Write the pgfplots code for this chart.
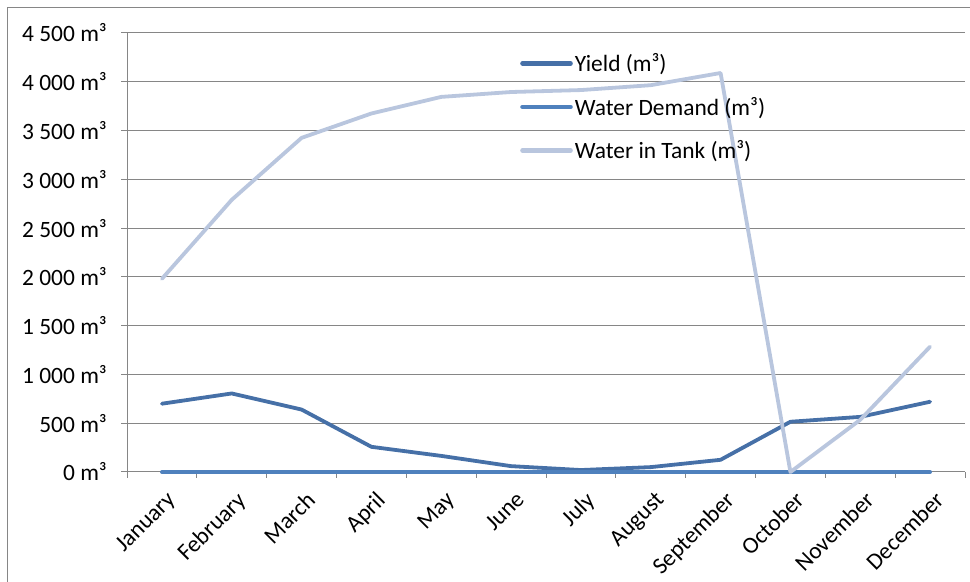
\documentclass[border=0pt]{standalone}
\usepackage{fontspec}
\setmainfont{Carlito}
\usepackage{pgfplots}
\pgfplotsset{compat=1.18}
\definecolor{yieldc}{RGB}{70,112,167}
\definecolor{demandc}{RGB}{79,129,189}
\definecolor{tankc}{RGB}{185,198,222}
\definecolor{gridc}{RGB}{134,134,134}
\begin{document}
\begin{tikzpicture}[x=1bp,y=1bp]
\useasboundingbox (0,0) rectangle (970,582);
\begin{scope}
\clip (0,0) rectangle (970,582);
\draw[gridc, line width=1bp] (7,-10) -- (7,574) -- (990,574);
\end{scope}
\begin{axis}[
  at={(127bp,110bp)}, anchor=south west,
  scale only axis, width=838bp, height=439bp,
  xmin=0.5, xmax=12.5, ymin=0, ymax=4500,
  xtick={1,...,12},
  xticklabels={January,February,March,April,May,June,July,August,September,October,November,December},
  major x tick style={draw=none},
  minor xtick={0.5,1.5,...,12.5},
  minor tick length=6bp,
  minor x tick style={gridc, line width=1bp},
  ytick={0,500,...,4500},
  yticklabels={0 m³,500 m³,1 000 m³,1 500 m³,2 000 m³,2 500 m³,3 000 m³,3 500 m³,4 000 m³,4 500 m³},
  major tick length=6bp,
  tick align=outside,
  ytick style={gridc, line width=1bp},
  ymajorgrids, grid style={gridc, line width=1bp},
  axis x line*=bottom, axis y line*=left,
  axis line style={gridc, line width=1bp},
  tick label style={font=\fontsize{23.5}{28}\selectfont, text=black},
  x tick label style={rotate=45, anchor=north east, inner sep=2bp, xshift=-4bp, yshift=-9bp},
  yticklabel style={inner sep=3bp, xshift=-11bp},
  legend style={draw=none, fill=none, at={(0.469,0.958)}, anchor=north west,
    font=\fontsize{23.5}{28}\selectfont, row sep=20bp, inner sep=0pt,
    /tikz/every even column/.append style={column sep=0bp}},
  legend cell align=left,
  legend image code/.code={\draw[#1, line cap=round] (0bp,0bp) -- (48bp,0bp);},
  legend image post style={line width=4.6bp},
  clip=false,
]
\addplot[yieldc, line width=3.8bp, line join=round, line cap=round] coordinates {
(1,700) (2,805) (3,640) (4,258) (5,165) (6,60) (7,20) (8,50) (9,125) (10,515) (11,565) (12,720)};
\addlegendentry{Yield (m³)}
\addplot[demandc, line width=3.8bp, line cap=round] coordinates {
(1,0) (2,0) (3,0) (4,0) (5,0) (6,0) (7,0) (8,0) (9,0) (10,0) (11,0) (12,0)};
\addlegendentry{Water Demand (m³)}
\addplot[tankc, line width=3.8bp, line join=round, line cap=round] coordinates {
(1,1980) (2,2790) (3,3425) (4,3675) (5,3845) (6,3895) (7,3915) (8,3965) (9,4090) (10,0) (11,535) (12,1285)};
\addlegendentry{Water in Tank (m³)}
\end{axis}
\end{tikzpicture}
\end{document}
